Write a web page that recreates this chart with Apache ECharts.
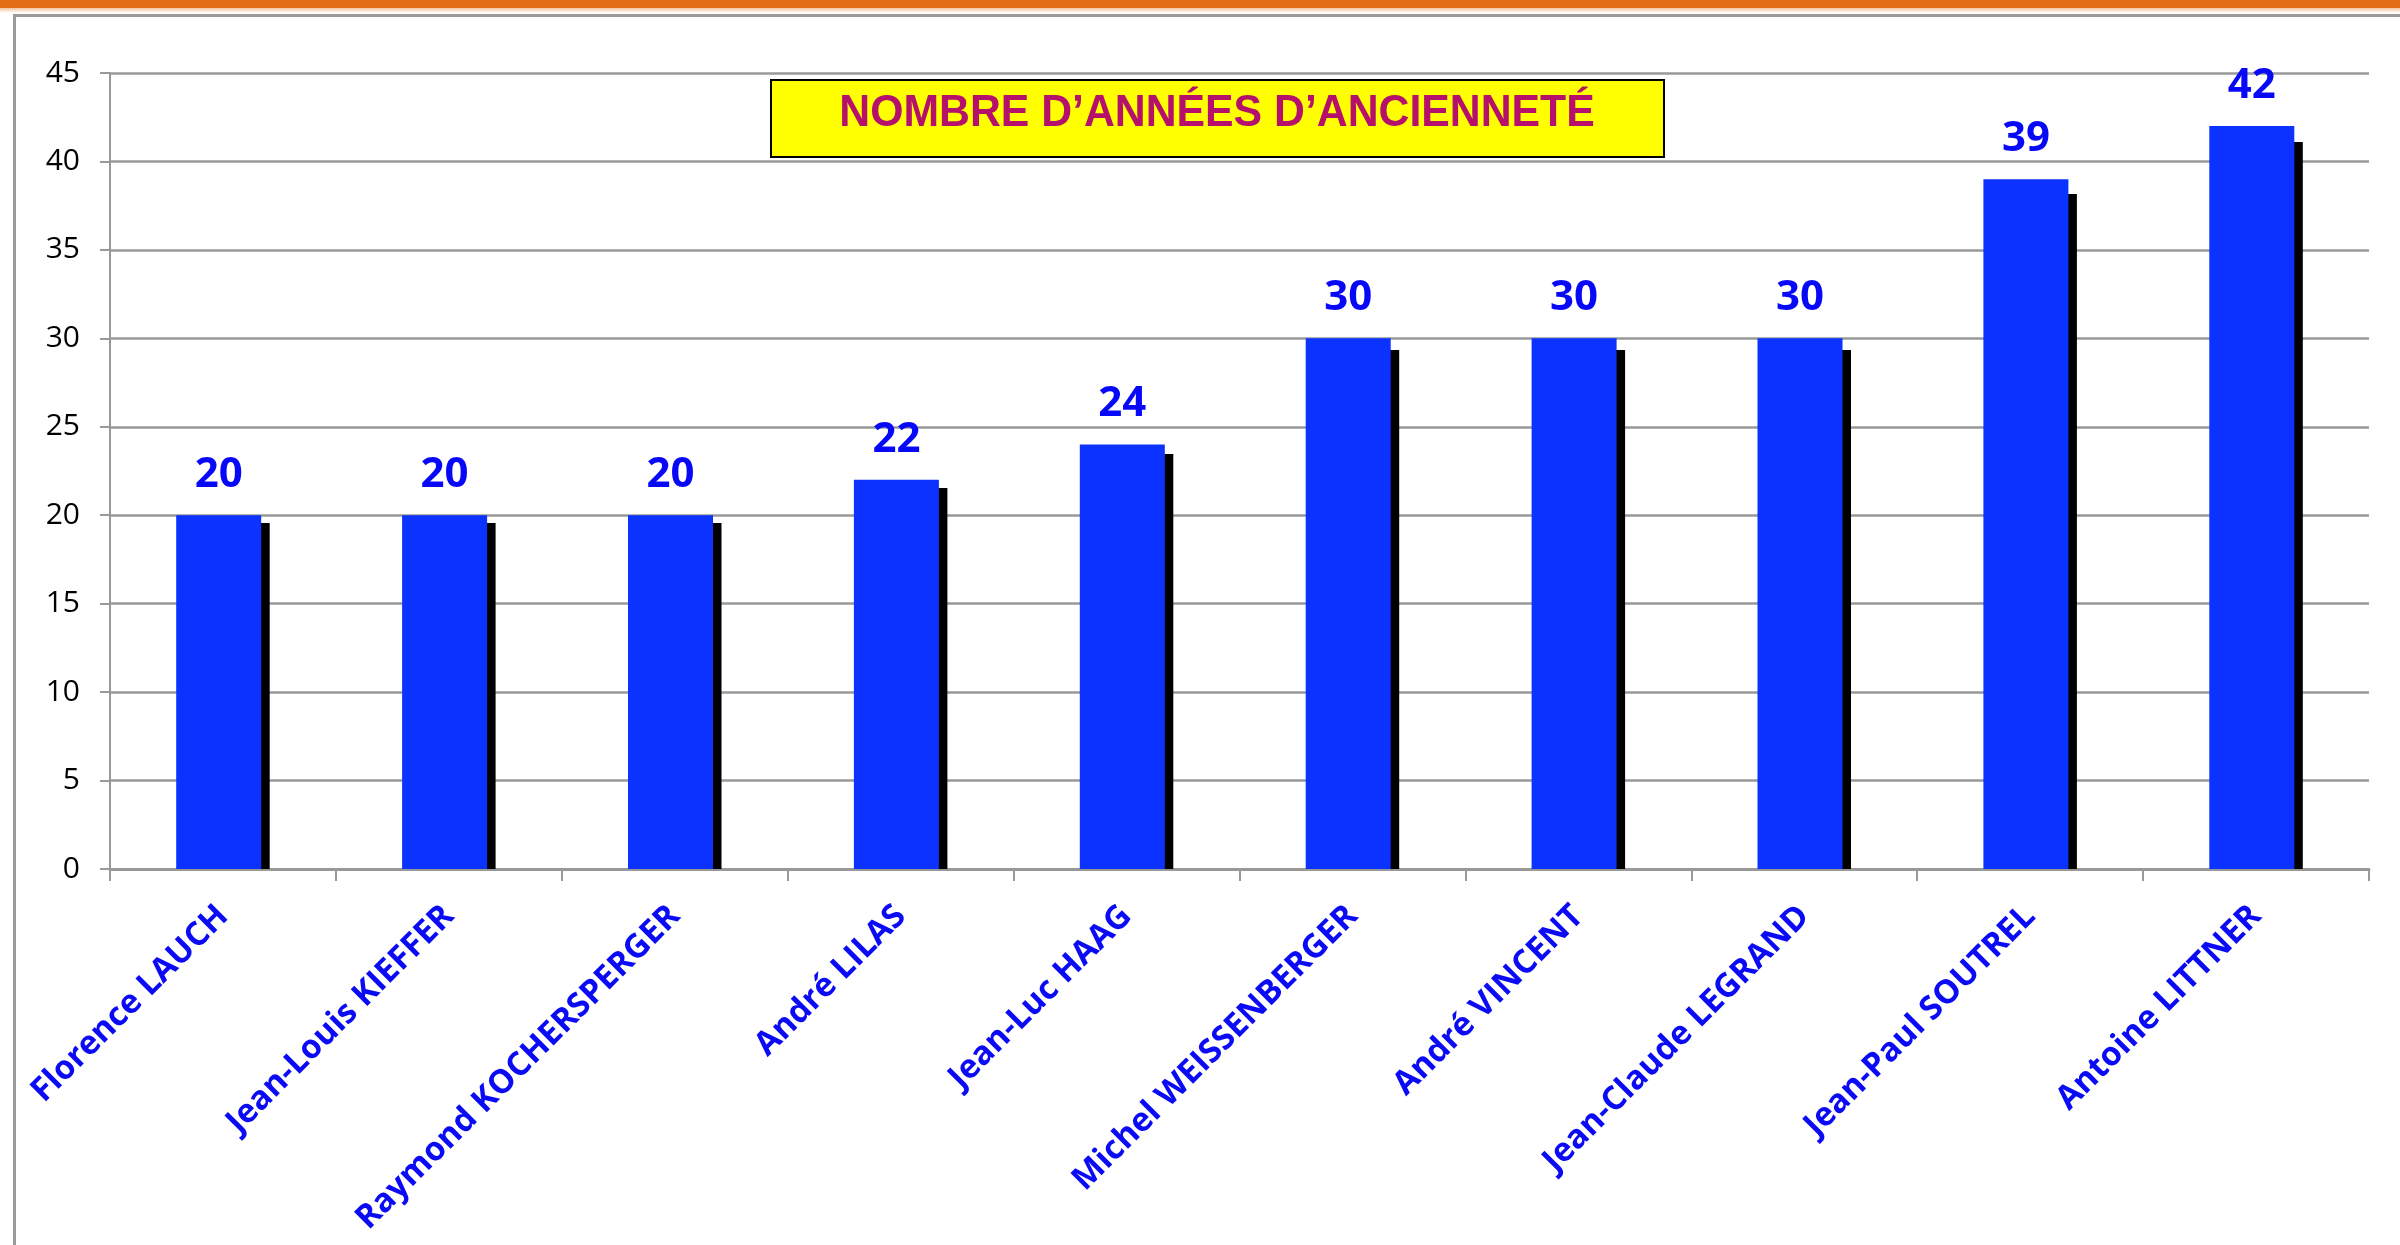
<!DOCTYPE html>
<html>
<head>
<meta charset="utf-8">
<title>Nombre d'années d'ancienneté</title>
<script src="https://cdn.jsdelivr.net/npm/echarts@6/dist/echarts.min.js"></script>
<style>
  html, body { margin: 0; padding: 0; background: #fff; }
  #main { width: 2400px; height: 1245px; }
</style>
</head>
<body>
<div id="main"></div>
<script>
// donnees du graphique
var names = ['Florence LAUCH', 'Jean-Louis KIEFFER', 'Raymond KOCHERSPERGER', 'André LILAS', 'Jean-Luc HAAG',
             'Michel WEISSENBERGER', 'André VINCENT', 'Jean-Claude LEGRAND', 'Jean-Paul SOUTREL', 'Antoine LITTNER'];
var years = [20, 20, 20, 22, 24, 30, 30, 30, 39, 42];
var yTicks = [0, 5, 10, 15, 20, 25, 30, 35, 40, 45];
var titre = 'NOMBRE D’ANNÉES D’ANCIENNETÉ';

var myChart;
function drawChart() {
    if (myChart != null && myChart != undefined) {
        myChart.dispose();
    }
    myChart = echarts.init(document.getElementById('main'));

    var option = {
        animation: false,
        backgroundColor: '#fff',
        grid: { left: 110, right: 31, top: 73, bottom: 376 },
        // cadre, bandeau orange et titre jaune
        graphic: [
            { type: 'rect', left: 0, top: 0, z: -1, shape: { width: 2400, height: 8 }, style: { fill: '#e36c17' } },
            { type: 'rect', left: 0, top: 8, z: -1, shape: { width: 2400, height: 5 },
              style: { fill: new echarts.graphic.LinearGradient(0, 0, 0, 1, [
                  { offset: 0, color: '#f3c39b' }, { offset: 1, color: '#ffffff' }]) } },
            { type: 'rect', left: 12, top: 13, z: -1, silent: true,
              shape: { width: 2420, height: 1300 }, style: { fill: 'none', stroke: '#9a9a9a', lineWidth: 3 } },
            { type: 'group', left: 770, top: 79, z: 10, children: [
                { type: 'rect', shape: { x: 0, y: 0, width: 893, height: 77 },
                  style: { fill: '#ffff00', stroke: '#000', lineWidth: 2 } },
                { type: 'text', x: 446, y: 34, scaleX: 0.95,
                  style: { text: titre, fill: '#b5106b', font: 'bold 45px "Liberation Sans", Arial, sans-serif',
                           textAlign: 'center', textVerticalAlign: 'middle' } }
            ] }
        ],
        xAxis: {
            type: 'category',
            data: names,
            axisLine: { lineStyle: { color: '#999', width: 3 } },
            axisTick: { show: true, interval: 0, length: 12, lineStyle: { color: '#999', width: 2 } },
            axisLabel: {
                interval: 0,
                rotate: 45,
                margin: 42,
                color: '#0a0af5',
                fontFamily: 'Open Sans',
                fontWeight: 'bold',
                fontSize: 33
            }
        },
        yAxis: {
            type: 'value',
            min: yTicks[0],
            max: yTicks[yTicks.length - 1],
            interval: 5,
            axisLine: { show: true, lineStyle: { color: '#999', width: 2 } },
            axisTick: { show: true, length: 10, lineStyle: { color: '#999', width: 2 } },
            splitLine: { lineStyle: { color: '#999', width: 2.5 } },
            axisLabel: { margin: 30, color: '#000', fontFamily: 'Open Sans', fontSize: 30 }
        },
        series: [
            {
                name: 'Années',
                type: 'bar',
                data: years,
                barWidth: 85,
                barGap: '-90%',
                z: 3,
                itemStyle: { color: '#0b32ff' },
                label: {
                    show: true,
                    position: 'top',
                    distance: 19,
                    color: '#0808f8',
                    fontFamily: 'Open Sans',
                    fontWeight: 'bold',
                    fontSize: 42
                }
            },
            {
                // ombre noire a droite des barres
                name: 'ombre',
                type: 'bar',
                data: years,
                barWidth: 85,
                z: 2,
                silent: true,
                itemStyle: {
                    color: new echarts.graphic.LinearGradient(0, 0, 0, 1, [
                        { offset: 0, color: 'rgba(0,0,0,0)' },
                        { offset: 0.022, color: 'rgba(0,0,0,0)' },
                        { offset: 0.022, color: '#000' },
                        { offset: 1, color: '#000' }
                    ])
                }
            }
        ]
    };

    myChart.setOption(option);
}
drawChart();
</script>
</body>
</html>
